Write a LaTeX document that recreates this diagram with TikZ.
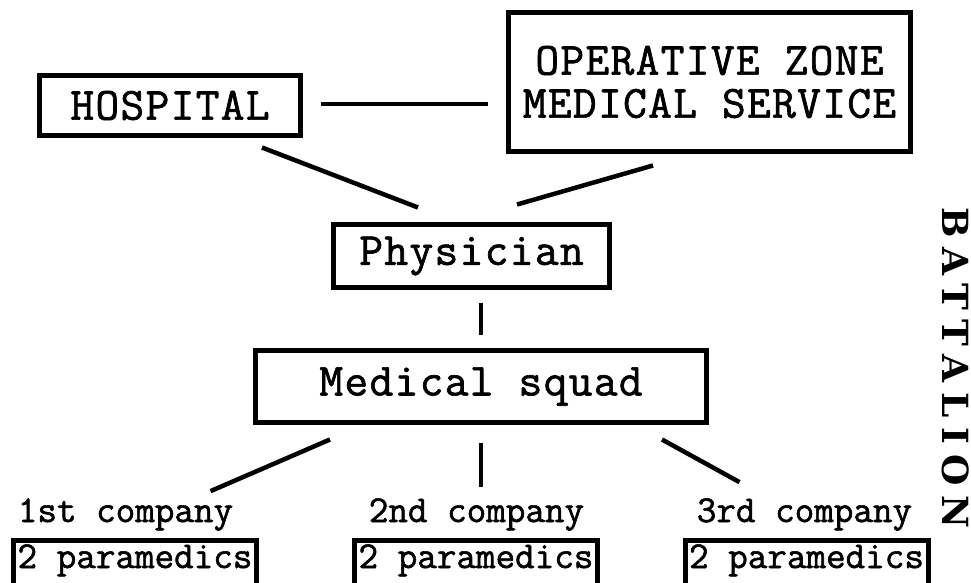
\documentclass[tikz,border=0pt]{standalone}
\usepackage{fontspec}
\newfontfamily\diagfont{Latin Modern Mono}[FakeBold=1.5]
\newfontfamily\unitfont{Latin Modern Mono}[FakeBold=1.5, LetterSpace=3]
\newfontfamily\battfont{DejaVu Serif}[LetterSpace=28]
\usetikzlibrary{positioning}

\begin{document}
\begin{tikzpicture}[
  x=1pt, y=-1pt,
  unit/.style={
    draw, rectangle, line width=5pt, inner sep=0pt,
    align=center, font=\unitfont\fontsize{46}{43}\selectfont
  },
  para/.style={
    unit, minimum width=243pt, minimum height=56pt,
    text height=24pt, text depth=24pt,
    font=\diagfont\fontsize{38}{40}\selectfont
  },
  comp/.style={inner sep=0pt, anchor=base, font=\diagfont\fontsize{38}{40}\selectfont},
  lnk/.style={line width=4.5pt},
]
\path[use as bounding box, clip] (0,0) rectangle (971,582);

\node[unit, minimum width=261pt, minimum height=60pt] (hosp) at (170,105.5)
  {HOSPITAL};
\node[unit, minimum width=402pt, minimum height=139pt] (ozms) at (709.5,82)
  {OPERATIVE ZONE\\MEDICAL SERVICE};
\node[unit, minimum width=276pt, minimum height=63pt] (phys) at (471.5,256)
  {Physician};
\node[unit, minimum width=451pt, minimum height=72pt] (squad) at (481,386.5)
  {Medical squad};

%% companies
\node[comp] (comp1) at (125.5,522) {1st company};
\node[comp] (comp2) at (476.5,522) {2nd company};
\node[comp] (comp3) at (804.5,522) {3rd company};

\node[para] (para1) at (135,568)   {2 paramedics};
\node[para] (para2) at (476,568)   {2 paramedics};
\node[para] (para3) at (806.5,568) {2 paramedics};

%% battalion label
\node[rotate=-90, inner sep=0pt, font=\battfont\bfseries\fontsize{36}{36}\selectfont]
  (batt) at (956,368) {BATTALION};

%% upper links
\draw[lnk, shorten <=17.5pt, shorten >=18.5pt]
  ([yshift=1.5pt]hosp.east) -- ([yshift=1.5pt]hosp.east -| ozms.west);
\draw[lnk] ([xshift=92pt,yshift=-9.5pt]hosp.south)
  -- ([xshift=-53.5pt,yshift=14.5pt]phys.north);
\draw[lnk] ([xshift=-56.5pt,yshift=-11.5pt]ozms.south)
  -- ([xshift=45.5pt,yshift=17.5pt]phys.north);
\draw[lnk, shorten <=12.5pt, shorten >=13.5pt]
  (squad.north |- phys.south) -- (squad.north);

%% squad to companies
\draw[lnk] ([xshift=-151pt,yshift=-14.5pt]squad.south)
  -- ([xshift=85pt,yshift=7pt]comp1.north);
\draw[lnk, shorten <=17.5pt, shorten >=11pt]
  (squad.south) -- (squad.south |- comp2.north);
\draw[lnk] ([xshift=181pt,yshift=-14.5pt]squad.south)
  -- ([xshift=-65pt,yshift=16pt]comp3.north);
\end{tikzpicture}
\end{document}
